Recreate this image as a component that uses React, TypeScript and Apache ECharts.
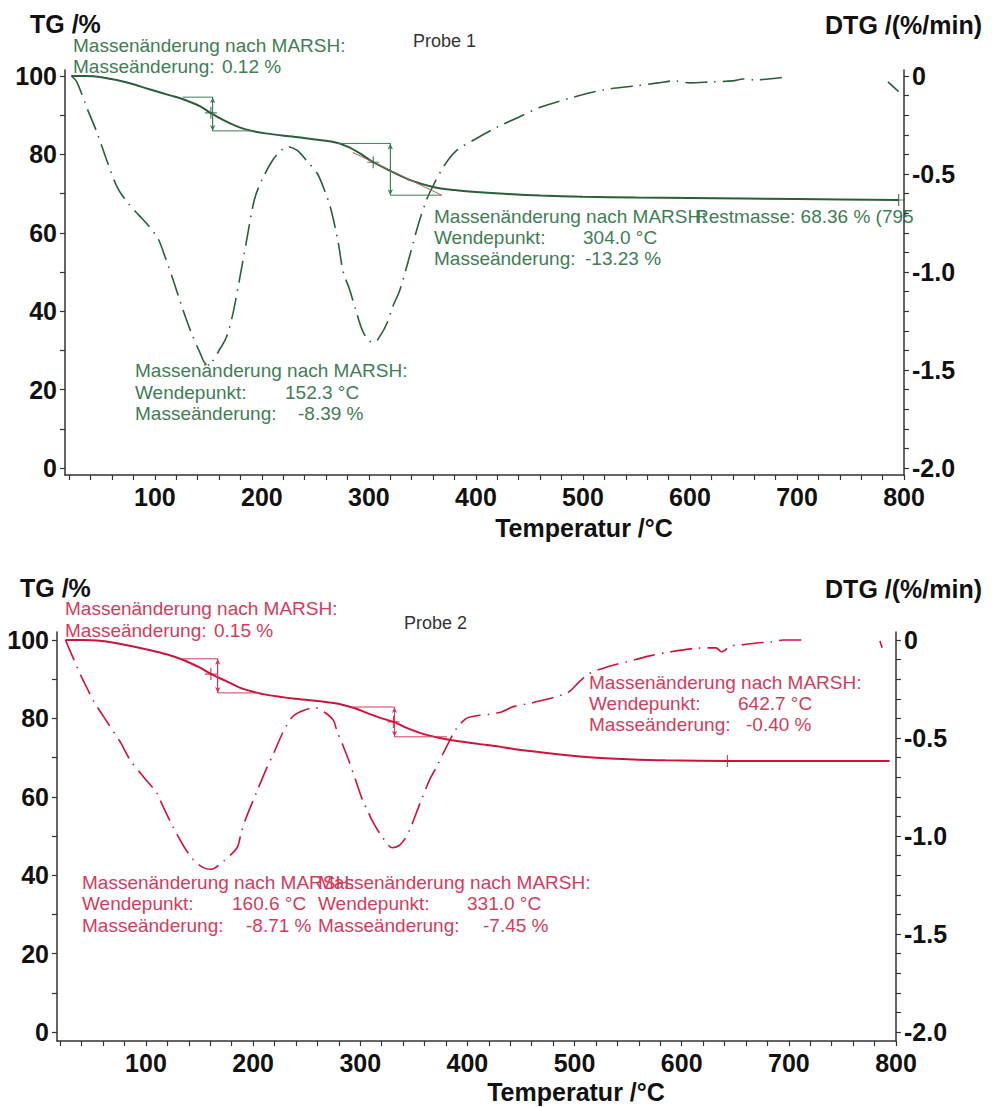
import React, { useEffect, useRef } from "react";
import * as echarts from "echarts";

// ---------- tick labels ----------
const xTickLabels = [100, 200, 300, 400, 500, 600, 700, 800];
const xMinorTicks = [20, 40, 60, 80, 100, 120, 140, 160, 180, 200, 220, 240, 260, 280, 300, 320, 340, 360, 380, 400, 420, 440, 460, 480, 500, 520, 540, 560, 580, 600, 620, 640, 660, 680, 700, 720, 740, 760, 780, 800];
const tgTickLabels = [0, 20, 40, 60, 80, 100];
const tgMinorTicks = [0, 10, 20, 30, 40, 50, 60, 70, 80, 90, 100];
const dtgTickLabels = [0, -0.5, -1, -1.5, -2];
const dtgMinorTicks = [0, -0.1, -0.2, -0.3, -0.4, -0.5, -0.6, -0.7, -0.8, -0.9, -1, -1.1, -1.2, -1.3, -1.4, -1.5, -1.6, -1.7, -1.8, -1.9, -2];

// ---------- Probe 1 ----------
const probe1TG = [
  [22, 100], [35, 100], [50, 99.7], [75, 98.3], [95, 96.6], [115, 95.0], [130, 93.7], [142, 92.3], [152, 90.6],
  [165, 88.6], [179, 86.9], [192, 85.9], [205, 85.3], [230, 84.5], [266, 83.2], [280, 82.0], [292, 80.2],
  [304, 78.0], [320, 75.8], [340, 73.3], [360, 71.7], [380, 70.9], [400, 70.4], [422, 70.0], [460, 69.5],
  [500, 69.2], [550, 69.0], [600, 68.9], [700, 68.6], [795, 68.36]
];
const probe1DTG = [
  [22, 0], [27, -0.03], [37, -0.17], [46, -0.29], [55, -0.43], [65, -0.57], [75, -0.65], [85, -0.71],
  [95, -0.77], [103, -0.83], [110, -0.93], [117, -1.04], [126, -1.19], [134, -1.31], [142, -1.41], [148, -1.47],
  [153, -1.46], [160, -1.40], [167, -1.33], [173, -1.21], [179, -1.04], [186, -0.83], [193, -0.63], [200, -0.53],
  [210, -0.43], [218, -0.38], [224, -0.36], [233, -0.38], [243, -0.44], [252, -0.50], [259, -0.59], [264, -0.67],
  [271, -0.84], [276, -1.0], [282, -1.09], [288, -1.2], [294, -1.30], [300, -1.35], [305, -1.36], [310, -1.33],
  [317, -1.26], [322, -1.18], [329, -1.09], [338, -0.92], [346, -0.76], [354, -0.63], [360, -0.56], [370, -0.46],
  [382, -0.38], [400, -0.32], [420, -0.26], [440, -0.21], [460, -0.16], [490, -0.11], [520, -0.07], [550, -0.05],
  [570, -0.035], [585, -0.025], [600, -0.035], [620, -0.03], [640, -0.025], [650, -0.015], [660, -0.02], [690, -0.005],
  [720, null], [785, -0.03], [795, -0.08]
];
// [start T, step T, end T, upper TG, lower TG]
const probe1Steps = [[126, 154, 192, 94.6, 86.0], [270, 320, 368, 82.8, 69.6]];
const probe1Tangent = [[285, 80.5], [368, 69.6]];
const probe1Marks = [[152.3, 90.6], [304.0, 78.0], [795, 68.36]];

// ---------- Probe 2 ----------
const probe2TG = [
  [25, 100], [40, 100], [57, 99.8], [80, 98.8], [104, 97.4], [120, 96.3], [135, 94.9], [150, 93.0], [161, 91.3],
  [175, 89.5], [188, 87.8], [200, 86.8], [213, 86.0], [240, 85.0], [275, 83.9], [295, 82.6], [306, 81.4],
  [318, 80.2], [331, 79.1], [345, 77.4], [362, 75.8], [384, 74.5], [410, 73.5], [430, 72.8], [443, 72.2],
  [480, 71.0], [514, 70.1], [550, 69.6], [585, 69.3], [643, 69.15], [700, 69.1], [794, 69.1]
];
const probe2DTG = [
  [25, 0], [26, -0.015], [40, -0.19], [45, -0.245], [51, -0.31], [64, -0.42], [76, -0.52], [85, -0.61], [98, -0.70],
  [110, -0.78], [116, -0.85], [125, -0.95], [135, -1.05], [144, -1.12], [153, -1.16], [161, -1.17], [172, -1.13],
  [185, -1.06], [189, -0.98], [194, -0.90], [203, -0.78], [213, -0.65], [219, -0.58], [228, -0.47], [237, -0.39],
  [247, -0.36], [258, -0.345], [267, -0.37], [275, -0.41], [278, -0.46], [284, -0.54], [289, -0.61], [296, -0.72],
  [303, -0.83], [306, -0.86], [311, -0.92], [320, -1.0], [330, -1.06], [336, -1.05], [341, -1.02], [346, -0.97],
  [356, -0.83], [365, -0.71], [371, -0.65], [380, -0.55], [390, -0.45], [399, -0.40], [405, -0.39], [430, -0.37],
  [443, -0.34], [461, -0.32], [493, -0.27], [505, -0.21], [514, -0.17], [535, -0.13], [557, -0.10], [567, -0.085],
  [590, -0.06], [614, -0.042], [632, -0.04], [637, -0.06], [646, -0.03], [656, -0.025], [670, -0.015], [683, -0.01],
  [695, 0], [716, 0], [750, null], [785, -0.005], [787, -0.04]
];
const probe2Steps = [[132, 167, 206, 95.2, 86.5], [293, 332, 381, 82.9, 75.3]];
const probe2Marks = [[160.6, 91.3], [331.0, 79.1], [642.7, 69.15]];

// ---------- styling ----------
const FONT = "'Liberation Sans', Arial, Helvetica, sans-serif";
const GREEN_LINE = "#2b5e3b";
const GREEN_TEXT = "#3f7d55";
const RED_LINE = "#cf1239";
const RED_TEXT = "#d23c5c";
const AXIS = "#333";
const PLUS = "path://M4.5,0h1v4.5h4.5v1h-4.5v4.5h-1v-4.5h-4.5v-1h4.5z";

function fmtDtg(v: number) {
  return v === 0 ? "0" : v.toFixed(1);
}

function axesFor(g: number, xmin: number, xmax: number, ymin: number, ymax: number, rmin: number, rmax: number) {
  const lineStyle = { color: AXIS, width: 1.5 };
  const labelBase = { fontSize: 25, fontWeight: "bold", color: "#111", fontFamily: FONT };
  const x = {
    type: "value", gridIndex: g, min: xmin, max: xmax,
    axisLine: { show: true, onZero: false, lineStyle },
    axisTick: { show: true, customValues: xMinorTicks, length: 5, lineStyle: { color: AXIS, width: 1.2 } },
    axisLabel: { ...labelBase, customValues: xTickLabels, margin: 9 },
    splitLine: { show: false },
  };
  const yl = {
    type: "value", gridIndex: g, position: "left", min: ymin, max: ymax,
    axisLine: { show: true, onZero: false, lineStyle },
    axisTick: { show: true, customValues: tgMinorTicks, length: 5, lineStyle: { color: AXIS, width: 1.2 } },
    axisLabel: { ...labelBase, customValues: tgTickLabels, margin: 8 },
    splitLine: { show: false },
  };
  const yr = {
    type: "value", gridIndex: g, position: "right", min: rmin, max: rmax,
    axisLine: { show: true, onZero: false, lineStyle },
    axisTick: { show: true, customValues: dtgMinorTicks, length: 5, lineStyle: { color: AXIS, width: 1.2 } },
    axisLabel: { ...labelBase, customValues: dtgTickLabels, margin: 8, formatter: fmtDtg },
    splitLine: { show: false },
  };
  return { x, yl, yr };
}

function seriesFor(g: number, tg: any[], dtg: any[], steps: number[][], marks: number[][], lineColor: string, thinColor: string, tangent?: number[][]) {
  const out: any[] = [];
  out.push({
    type: "line", xAxisIndex: g, yAxisIndex: 2 * g, data: tg, smooth: 0.3, showSymbol: false,
    lineStyle: { color: lineColor, width: 2 }, z: 3,
  });
  out.push({
    type: "line", xAxisIndex: g, yAxisIndex: 2 * g + 1, data: dtg, smooth: 0.3, showSymbol: false, connectNulls: false,
    lineStyle: { color: lineColor, width: 1.6, type: [22, 7, 1.5, 7] }, z: 2,
  });
  steps.forEach((s) => {
    const [t0, t1, t2, hi, lo] = s;
    out.push({
      type: "line", xAxisIndex: g, yAxisIndex: 2 * g, showSymbol: false, silent: true,
      data: [[t0, hi], [t1, hi], [t1, lo], [t2, lo]],
      lineStyle: { color: thinColor, width: 1 }, z: 4,
      markLine: {
        silent: true, symbol: ["arrow", "arrow"], symbolSize: [4, 6], label: { show: false },
        lineStyle: { color: thinColor, width: 1, type: "solid" },
        data: [[{ coord: [t1, hi] }, { coord: [t1, lo] }]],
      },
    });
  });
  if (tangent) {
    out.push({
      type: "line", xAxisIndex: g, yAxisIndex: 2 * g, showSymbol: false, silent: true, data: tangent,
      lineStyle: { color: "#a0665a", width: 1 }, z: 4,
    });
  }
  out.push({
    type: "scatter", xAxisIndex: g, yAxisIndex: 2 * g, data: marks, symbol: PLUS, symbolSize: 12,
    itemStyle: { color: lineColor }, z: 5, silent: true,
  });
  return out;
}

function txt(x: number, y: number, text: string, fill: string, size: number, weight = "normal", align = "left") {
  return {
    type: "text", x, y, silent: true,
    style: {
      text, fill, font: `${weight} ${size}px ${FONT}`,
      textAlign: align, textVerticalAlign: "middle", align, verticalAlign: "middle",
    },
  };
}

function annotBlock(x: number, ys: number[], vals: string[], valX: number[], color: string) {
  return [
    txt(x, ys[0], "Massenänderung nach MARSH:", color, 19),
    txt(x, ys[1], "Wendepunkt:", color, 19),
    txt(valX[0], ys[1], vals[0], color, 19),
    txt(x, ys[2], "Masseänderung:", color, 19),
    txt(valX[1], ys[2], vals[1], color, 19),
  ];
}

export default function App() {
  const ref = useRef<HTMLDivElement>(null);
  useEffect(() => {
    if (!ref.current) return;
    const chart = echarts.init(ref.current, null, { renderer: "svg" });
    const a1 = axesFor(0, 16, 800, -1.79, 101.53, -2.0357, 0.0306);
    const a2 = axesFor(1, 17, 800, -2.3, 102.04, -2.046, 0.0408);
    const option: any = {
      animation: false,
      backgroundColor: "#ffffff",
      grid: [
        { left: 65, top: 70, width: 839, height: 405 },
        { left: 57, top: 632, width: 839, height: 409 },
      ],
      xAxis: [a1.x, a2.x],
      yAxis: [a1.yl, a1.yr, a2.yl, a2.yr],
      series: [
        ...seriesFor(0, probe1TG, probe1DTG, probe1Steps, probe1Marks, GREEN_LINE, GREEN_TEXT, probe1Tangent),
        ...seriesFor(1, probe2TG, probe2DTG, probe2Steps, probe2Marks, RED_LINE, RED_TEXT),
      ],
      graphic: {
        elements: [
          // Probe 1 titles
          txt(30, 24, "TG /%", "#111", 25, "bold"),
          txt(982, 25, "DTG /(%/min)", "#111", 25, "bold", "right"),
          txt(584, 528, "Temperatur /°C", "#111", 25, "bold", "center"),
          txt(413, 41, "Probe 1", "#333", 18),
          txt(73, 45, "Massenänderung nach MARSH:", GREEN_TEXT, 19),
          txt(73, 66, "Masseänderung:", GREEN_TEXT, 19),
          txt(222, 66, "0.12 %", GREEN_TEXT, 19),
          ...annotBlock(434, [216, 237, 258], ["304.0 °C", "-13.23 %"], [583, 585], GREEN_TEXT),
          txt(695, 216, "Restmasse: 68.36 % (795", GREEN_TEXT, 19),
          ...annotBlock(135, [370, 392, 413], ["152.3 °C", "-8.39 %"], [285, 298], GREEN_TEXT),
          // Probe 2 titles
          txt(20, 588, "TG /%", "#111", 25, "bold"),
          txt(982, 589, "DTG /(%/min)", "#111", 25, "bold", "right"),
          txt(576, 1092, "Temperatur /°C", "#111", 25, "bold", "center"),
          txt(404, 623, "Probe 2", "#333", 18),
          txt(65, 608, "Massenänderung nach MARSH:", RED_TEXT, 19),
          txt(65, 630, "Masseänderung:", RED_TEXT, 19),
          txt(214, 630, "0.15 %", RED_TEXT, 19),
          ...annotBlock(589, [682, 703, 724], ["642.7 °C", "-0.40 %"], [738, 746], RED_TEXT),
          ...annotBlock(82, [882, 903, 925], ["160.6 °C", "-8.71 %"], [232, 246], RED_TEXT),
          ...annotBlock(318, [882, 903, 925], ["331.0 °C", "-7.45 %"], [467, 483], RED_TEXT),
        ],
      },
    };
    chart.setOption(option);
    return () => chart.dispose();
  }, []);
  return (
    <div
      ref={ref}
      style={{ position: "absolute", left: 0, top: 0, width: 996, height: 1107, background: "#fff" }}
    />
  );
}
